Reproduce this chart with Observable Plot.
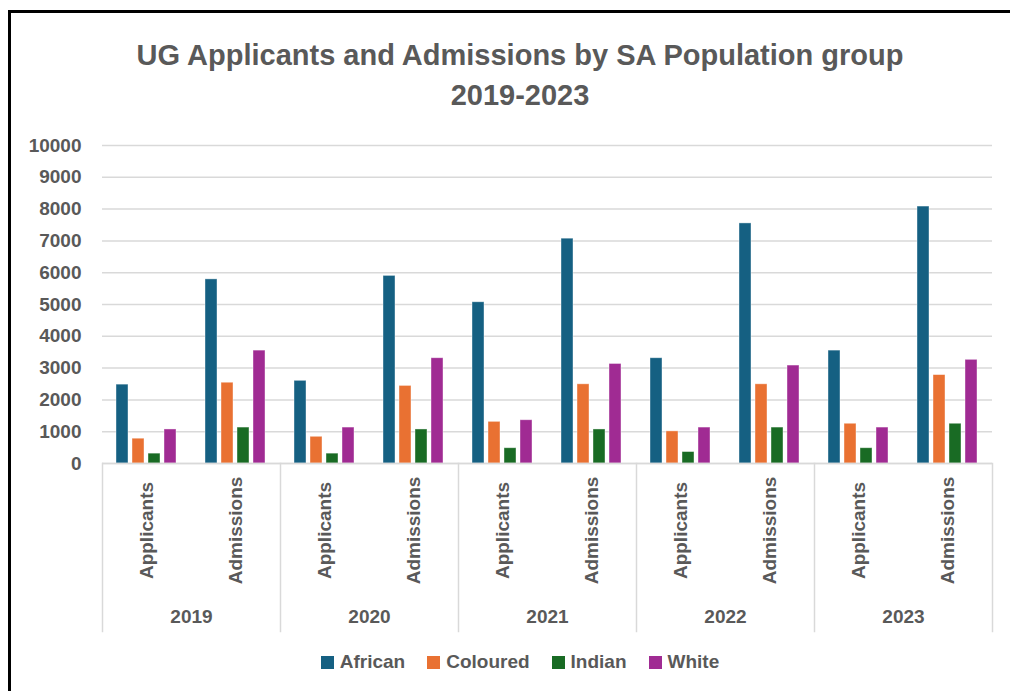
<!DOCTYPE html>
<html>
<head>
<meta charset="utf-8">
<script src="https://cdn.jsdelivr.net/npm/d3@7"></script>
<script src="https://cdn.jsdelivr.net/npm/@observablehq/plot@0.6"></script>
<style>
  html, body { margin: 0; padding: 0; background: #fff; overflow: hidden; width: 1010px; height: 691px; }
  #box { position: absolute; left: 8px; top: 10px; width: 1018px; height: 720px; border: 3px solid #000;
         font-family: "Liberation Sans", Arial, sans-serif; color: #595959; background: #fff; }
  #title { position: absolute; left: 0; top: 22px; width: 1018px; text-align: center;
           font-size: 29px; font-weight: bold; line-height: 40px; color: #595959; }
  #chart { position: absolute; left: 0; top: 107px; }
  #xaxis { position: absolute; left: 0; top: 450px; }
  #legend { position: absolute; left: 0; top: 638px; width: 1018px; display: flex; justify-content: center; }
  #legend, #legend * { font-family: "Liberation Sans", Arial, sans-serif !important; font-size: 19px !important;
                       font-weight: bold !important; color: #595959 !important; }
  #legend .leg-swatch { margin-right: 22px; }
  #legend .leg-swatch:last-child { margin-right: 0; }
  #legend .leg-swatch > svg { margin-right: 6px; }
  #legend > div { margin: 0 !important; min-height: 0 !important; }
</style>
</head>
<body>
<div id="box">
  <div id="title">UG Applicants and Admissions by SA Population group<br>2019-2023</div>
  <div id="chart"></div>
  <div id="xaxis"></div>
  <div id="legend"></div>
</div>
<script>
// ---- data ----
const years = ["2019", "2020", "2021", "2022", "2023"];
const stages = ["Applicants", "Admissions"];
const races = ["African", "Coloured", "Indian", "White"];
const colors = ["#156082", "#E97132", "#196B24", "#A02B93"];
// values in order: 2019 Applicants, 2019 Admissions, 2020 Applicants, ...
const african  = [2480, 5790, 2600, 5900, 5070, 7070, 3310, 7550, 3550, 8080];
const coloured = [780, 2540, 840, 2440, 1310, 2490, 1010, 2490, 1250, 2780];
const indian   = [310, 1130, 310, 1070, 480, 1070, 360, 1130, 480, 1250];
const white    = [1070, 3550, 1130, 3310, 1360, 3130, 1130, 3080, 1130, 3260];
const yTicks = [0, 1000, 2000, 3000, 4000, 5000, 6000, 7000, 8000, 9000, 10000];

const series = [african, coloured, indian, white];
const keys = [];
const rows = [];
const labelRows = [];
years.forEach((yr, i) => stages.forEach((st, j) => {
  const key = yr + "|" + st;
  keys.push(key);
  labelRows.push({year: yr, stage: st});
  races.forEach((r, k) => rows.push({year: yr, stage: st, key, race: r, value: series[k][i * 2 + j]}));
}));

const font = "'Liberation Sans', Arial, sans-serif";
const grid = "#d9d9d9";

const chart = Plot.plot({
  width: 1000, height: 345,
  marginTop: 25, marginBottom: 2, marginLeft: 89, marginRight: 17,
  style: {fontFamily: font, fontSize: "19px", fontWeight: "bold", color: "#595959", background: "transparent", overflow: "visible"},
  fx: {domain: keys, padding: 0, axis: null},
  x: {domain: races, paddingInner: 0.22, paddingOuter: 0.79, axis: null},
  y: {domain: [0, 10000], axis: null},
  color: {domain: races, range: colors},
  marks: [
    Plot.gridY(yTicks, {stroke: grid, strokeOpacity: 1, strokeWidth: 1.5}),
    Plot.axisY(yTicks, {tickSize: 0, tickPadding: 21, tickFormat: d => String(d), label: null}),
    Plot.barY(rows, {fx: "key", x: "race", y: "value", fill: "race", stroke: "white", strokeWidth: 0.8, strokeOpacity: 0.5}),
    Plot.ruleY([0], {stroke: grid, strokeWidth: 1.5})
  ]
});
document.getElementById("chart").appendChild(chart);

const xaxis = Plot.plot({
  width: 1000, height: 168,
  marginTop: 0, marginBottom: 0, marginLeft: 89, marginRight: 17,
  style: {fontFamily: font, fontSize: "19px", fontWeight: "bold", color: "#595959", background: "transparent", overflow: "visible"},
  fx: {domain: years, padding: 0, axis: null},
  x: {type: "band", domain: stages, padding: 0, axis: null},
  marks: [
    Plot.frame({anchor: "left", stroke: grid, strokeWidth: 1.5}),
    Plot.frame({anchor: "right", facetAnchor: "right", stroke: grid, strokeWidth: 1.5}),
    Plot.text(labelRows, {fx: "year", x: "stage", text: "stage", rotate: -90, frameAnchor: "top", dy: 67, lineAnchor: "middle", textAnchor: "middle"}),
    Plot.text(years, {fx: d => d, text: d => d, frameAnchor: "top", dy: 153, lineAnchor: "middle"})
  ]
});
document.getElementById("xaxis").appendChild(xaxis);

const legend = Plot.legend({
  color: {domain: races, range: colors},
  swatchSize: 13,
  className: "leg"
});
document.getElementById("legend").appendChild(legend);
</script>
</body>
</html>
